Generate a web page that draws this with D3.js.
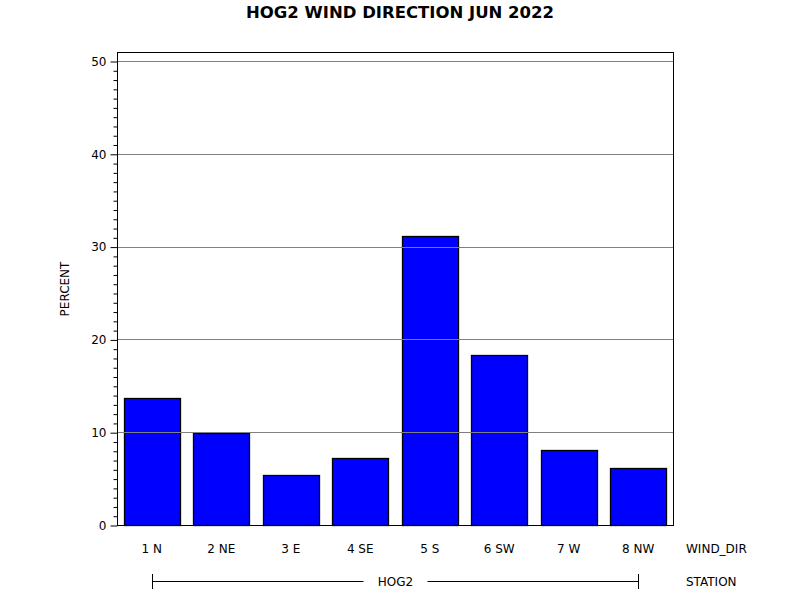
<!DOCTYPE html>
<html><head><meta charset="utf-8">
<script src="https://cdn.jsdelivr.net/npm/d3@7"></script>
<style>body{margin:0;background:#fff}svg{display:block}text{font-family:"DejaVu Sans",sans-serif}</style>
</head><body>
<svg id="c" width="800" height="600"></svg>
<script>
const categories = ["1 N","2 NE","3 E","4 SE","5 S","6 SW","7 W","8 NW"];
const percentValues = [13.7, 9.9, 5.4, 7.2, 31.1, 18.3, 8.1, 6.1];
const yTickValues = [0, 10, 20, 30, 40, 50];
const stationLabel = "HOG2";
const titleText = "HOG2 WIND DIRECTION JUN 2022";

const svg = d3.select("#c");
const L = 117, R = 673, T = 52, B = 525;
const x = d3.scaleBand().domain(categories).range([L, R]).paddingInner(0.2).paddingOuter(0.1);
const y = d3.scaleLinear().domain([0, 50]).range([B, 61]);

// bars
svg.append("g").selectAll("rect").data(percentValues).join("rect")
  .attr("x", (d, i) => Math.round(x(categories[i])) + 0.5)
  .attr("y", d => Math.round(y(d)) + 0.5)
  .attr("width", Math.round(x.bandwidth()))
  .attr("height", d => Math.round(y(0)) - Math.round(y(d)))
  .attr("fill", "#0000ff").attr("stroke", "#000").attr("stroke-width", 1.3);

// gridlines
svg.append("g").selectAll("line").data(yTickValues.filter(v => v > 0)).join("line")
  .attr("x1", L).attr("x2", R)
  .attr("y1", d => Math.round(y(d)) + 0.5).attr("y2", d => Math.round(y(d)) + 0.5)
  .attr("stroke", "#808080").attr("stroke-width", 1);

// frame
svg.append("rect").attr("x", L + 0.5).attr("y", T + 0.5).attr("width", R - L).attr("height", B - T)
  .attr("fill", "none").attr("stroke", "#000").attr("stroke-width", 1);

// y axis
const minor = d3.range(0, 51, 1).filter(v => v % 10 !== 0);
const yAxisMajor = d3.axisLeft(y).tickValues(yTickValues).tickSize(7).tickPadding(4).tickFormat(d3.format("d"));
const gy = svg.append("g").attr("transform", `translate(${L + 0.5},0.5)`).call(yAxisMajor);
gy.select(".domain").remove();
gy.selectAll("text").attr("font-size", 12).attr("fill", "#000").attr("font-family", "DejaVu Sans, sans-serif");
gy.selectAll("line").attr("stroke", "#000");
const gym = svg.append("g").attr("transform", `translate(${L + 0.5},0.5)`)
  .call(d3.axisLeft(y).tickValues(minor).tickSize(4).tickFormat(""));
gym.select(".domain").remove();
gym.selectAll("line").attr("stroke", "#000");

// x labels
svg.append("g").selectAll("text").data(categories).join("text")
  .attr("x", d => x(d) + x.bandwidth() / 2).attr("y", 553)
  .attr("text-anchor", "middle").attr("font-size", 12).text(d => d);

svg.append("text").attr("x", 686).attr("y", 553).attr("font-size", 12).text("WIND_DIR");
svg.append("text").attr("x", 686).attr("y", 586).attr("font-size", 12).text("STATION");

// station bracket
const sx1 = Math.round(x(categories[0]) + x.bandwidth() / 2) + 0.5;
const sx2 = Math.round(x(categories[categories.length - 1]) + x.bandwidth() / 2) + 0.5;
const sc = (sx1 + sx2) / 2;
const sy = 581.5;
const br = svg.append("g").attr("stroke", "#000").attr("stroke-width", 1);
br.append("line").attr("x1", sx1).attr("x2", sc - 32).attr("y1", sy).attr("y2", sy);
br.append("line").attr("x1", sc + 32).attr("x2", sx2).attr("y1", sy).attr("y2", sy);
br.append("line").attr("x1", sx1).attr("x2", sx1).attr("y1", 574).attr("y2", 589);
br.append("line").attr("x1", sx2).attr("x2", sx2).attr("y1", 574).attr("y2", 589);
svg.append("text").attr("x", sc).attr("y", 586).attr("text-anchor", "middle").attr("font-size", 12).text(stationLabel);

// y title
svg.append("text").attr("transform", "translate(69,289) rotate(-90)").attr("text-anchor", "middle")
  .attr("font-size", 12).text("PERCENT");

// title
svg.append("text").attr("x", 400).attr("y", 18).attr("text-anchor", "middle")
  .attr("font-size", 16.5).attr("font-weight", "bold").text(titleText);
</script>
</body></html>
